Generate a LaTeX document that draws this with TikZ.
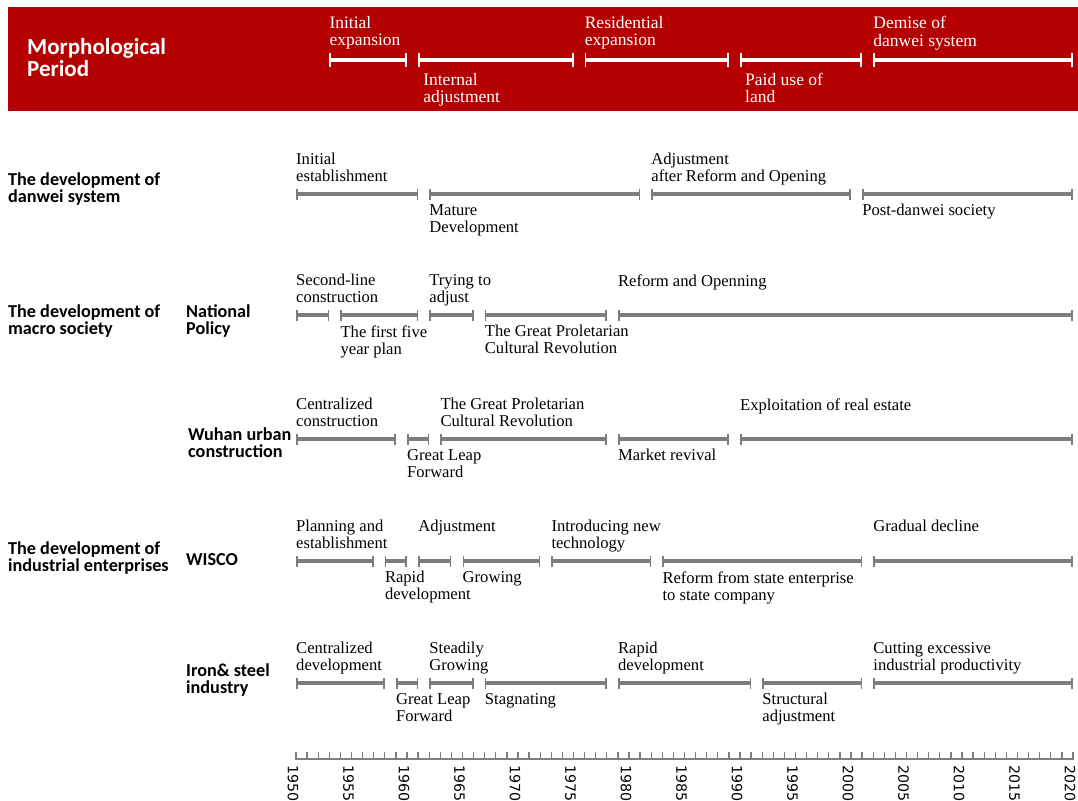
\documentclass[tikz,border=0pt]{standalone}
\usepackage{fontspec}
\setmainfont{Liberation Serif}
\newfontfamily\calibrifont{Carlito}
\newfontfamily\yearfont{DejaVu Sans}
\usetikzlibrary{arrows.meta}
\definecolor{periodred}{RGB}{180,0,0}
\definecolor{spangray}{RGB}{125,125,125}
% year -> horizontal position
\pgfmathdeclarefunction{yr}{1}{\pgfmathparse{296+(#1-1950)*11.1}}

\begin{document}
\begin{tikzpicture}[
  x=1pt, y=-1pt,
  every node/.style={font=\fontsize{16.6}{17}\selectfont, inner sep=0pt, align=left},
  span/.style={draw=spangray, line width=3.4pt,
               {Bar[width=11pt, line width=1.6pt]}-{Bar[width=11pt, line width=1.6pt]}},
  hspan/.style={draw=white, line width=3.2pt,
                {Bar[width=13pt, line width=1.8pt]}-{Bar[width=13pt, line width=1.8pt]}},
  uplbl/.style={anchor=north west, yshift=40.8pt},
  downlbl/.style={anchor=north west, yshift=-10.2pt},
  hlbl/.style={text=white, font=\fontsize{17.5}{17.3}\selectfont},
  hup/.style={hlbl, anchor=north west, yshift=43.8pt},
  hdown/.style={hlbl, anchor=north west, yshift=-12.8pt, xshift=5pt},
  rowlbl/.style={font=\calibrifont\bfseries\fontsize{18.2}{17}\selectfont, anchor=west},
  yearlbl/.style={font=\yearfont\fontsize{14.2}{15}\selectfont, rotate=-90, anchor=west}
]

\fill[white] (0,0) rectangle (1078,800);
\useasboundingbox (0,0) rectangle (1078,800);

% Morphological period header
\fill[periodred] (8,7) rectangle (1078,111);
\node[rowlbl, text=white, font=\calibrifont\bfseries\fontsize{23}{22}\selectfont]
  (mp-title) at (27,58) {Morphological\\Period};

\draw[hspan] ({yr(1953)},60) -- ({yr(1960)},60);
\draw[hspan] ({yr(1961)},60) -- ({yr(1975)},60);
\draw[hspan] ({yr(1976)},60) -- ({yr(1989)},60);
\draw[hspan] ({yr(1990)},60) -- ({yr(2001)},60);
\draw[hspan] ({yr(2002)},60) -- ({yr(2020)},60);

\node[hup]   (mp-init)  at ({yr(1953)},60) {Initial\\expansion};
\node[hdown] (mp-adj)   at ({yr(1961)},60) {Internal\\adjustment};
\node[hup]   (mp-res)   at ({yr(1976)},60) {Residential\\expansion};
\node[hdown] (mp-land)  at ({yr(1990)},60) {Paid use of\\land};
\node[hup]   (mp-dem)   at ({yr(2002)},60) {Demise of\\danwei system};

% Row titles
\node[rowlbl] (t-danwei) at (8,189)   {The development of\\danwei system};
\node[rowlbl] (t-macro)  at (8,321)   {The development of\\macro society};
\node[rowlbl] (t-policy) at (186,321) {National\\Policy};
\node[rowlbl] (t-wuhan)  at (188,443) {Wuhan urban\\construction};
\node[rowlbl] (t-indus)  at (8,558)   {The development of\\industrial enterprises};
\node[rowlbl] (t-wisco)  at (186,560) {WISCO};
\node[rowlbl] (t-iron)   at (186,680) {Iron\& steel\\industry};

% Danwei system
\draw[span] ({yr(1950)},194) -- ({yr(1961)},194);
\draw[span] ({yr(1962)},194) -- ({yr(1981)},194);
\draw[span] ({yr(1982)},194) -- ({yr(2000)},194);
\draw[span] ({yr(2001)},194) -- ({yr(2020)},194);

\node[uplbl]   (dw-init) at ({yr(1950)},194) {Initial\\establishment};
\node[downlbl] (dw-mat)  at ({yr(1962)},194) {Mature\\Development};
\node[uplbl]   (dw-adj)  at ({yr(1982)},194) {Adjustment\\after Reform and Opening};
\node[downlbl] (dw-post) at ({yr(2001)},194) {Post-danwei society};

% National policy
\draw[span] ({yr(1950)},315) -- ({yr(1953)},315);
\draw[span] ({yr(1954)},315) -- ({yr(1961)},315);
\draw[span] ({yr(1962)},315) -- ({yr(1966)},315);
\draw[span] ({yr(1967)},315) -- ({yr(1978)},315);
\draw[span] ({yr(1979)},315) -- ({yr(2020)},315);

\node[uplbl]   (np-sec)  at ({yr(1950)},315) {Second-line\\construction};
\node[downlbl] (np-five) at ({yr(1954)},315) {The first five\\year plan};
\node[uplbl]   (np-try)  at ({yr(1962)},315) {Trying to\\adjust};
\node[downlbl] (np-gpcr) at ({yr(1967)},315) {The Great Proletarian\\Cultural Revolution};
\node[uplbl]   (np-ref)  at ({yr(1979)},315) {Reform and Openning};

% Wuhan urban construction
\draw[span] ({yr(1950)},439) -- ({yr(1959)},439);
\draw[span] ({yr(1960)},439) -- ({yr(1962)},439);
\draw[span] ({yr(1963)},439) -- ({yr(1978)},439);
\draw[span] ({yr(1979)},439) -- ({yr(1989)},439);
\draw[span] ({yr(1990)},439) -- ({yr(2020)},439);

\node[uplbl]   (wu-cen)  at ({yr(1950)},439) {Centralized\\construction};
\node[downlbl] (wu-glf)  at ({yr(1960)},439) {Great Leap\\Forward};
\node[uplbl]   (wu-gpcr) at ({yr(1963)},439) {The Great Proletarian\\Cultural Revolution};
\node[downlbl] (wu-mkt)  at ({yr(1979)},439) {Market revival};
\node[uplbl]   (wu-est)  at ({yr(1990)},439) {Exploitation of real estate};

% WISCO
\draw[span] ({yr(1950)},561) -- ({yr(1957)},561);
\draw[span] ({yr(1958)},561) -- ({yr(1960)},561);
\draw[span] ({yr(1961)},561) -- ({yr(1964)},561);
\draw[span] ({yr(1965)},561) -- ({yr(1972)},561);
\draw[span] ({yr(1973)},561) -- ({yr(1982)},561);
\draw[span] ({yr(1983)},561) -- ({yr(2001)},561);
\draw[span] ({yr(2002)},561) -- ({yr(2020)},561);

\node[uplbl]   (ws-plan) at ({yr(1950)},561) {Planning and\\establishment};
\node[downlbl] (ws-rap)  at ({yr(1958)},561) {Rapid\\development};
\node[uplbl]   (ws-adj)  at ({yr(1961)},561) {Adjustment};
\node[downlbl] (ws-grow) at ({yr(1965)},561) {Growing};
\node[uplbl]   (ws-tech) at ({yr(1973)},561) {Introducing new\\technology};
\node[downlbl] (ws-ref)  at ({yr(1983)},561) {Reform from state enterprise\\to state company};
\node[uplbl]   (ws-dec)  at ({yr(2002)},561) {Gradual decline};

% Iron & steel industry
\draw[span] ({yr(1950)},683) -- ({yr(1958)},683);
\draw[span] ({yr(1959)},683) -- ({yr(1961)},683);
\draw[span] ({yr(1962)},683) -- ({yr(1966)},683);
\draw[span] ({yr(1967)},683) -- ({yr(1978)},683);
\draw[span] ({yr(1979)},683) -- ({yr(1991)},683);
\draw[span] ({yr(1992)},683) -- ({yr(2001)},683);
\draw[span] ({yr(2002)},683) -- ({yr(2020)},683);

\node[uplbl]   (is-cen)  at ({yr(1950)},683) {Centralized\\development};
\node[downlbl] (is-glf)  at ({yr(1959)},683) {Great Leap\\Forward};
\node[uplbl]   (is-grow) at ({yr(1962)},683) {Steadily\\Growing};
\node[downlbl] (is-stag) at ({yr(1967)},683) {Stagnating};
\node[uplbl]   (is-rap)  at ({yr(1979)},683) {Rapid\\development};
\node[downlbl] (is-str)  at ({yr(1992)},683) {Structural\\adjustment};
\node[uplbl]   (is-cut)  at ({yr(2002)},683) {Cutting excessive\\industrial productivity};

% Year axis
\draw[spangray, line width=2.6pt] ({yr(1950)-1},759) -- ({yr(2020)+1},759);
\foreach \y in {1950,...,2020}
  \draw[spangray, line width=1.3pt] ({yr(\y)},759) -- ++(0,-7);
\foreach \y in {1950,1955,...,2020}
  \node[yearlbl] (yl-\y) at ({yr(\y)-3},765) {\y};

\end{tikzpicture}
\end{document}
